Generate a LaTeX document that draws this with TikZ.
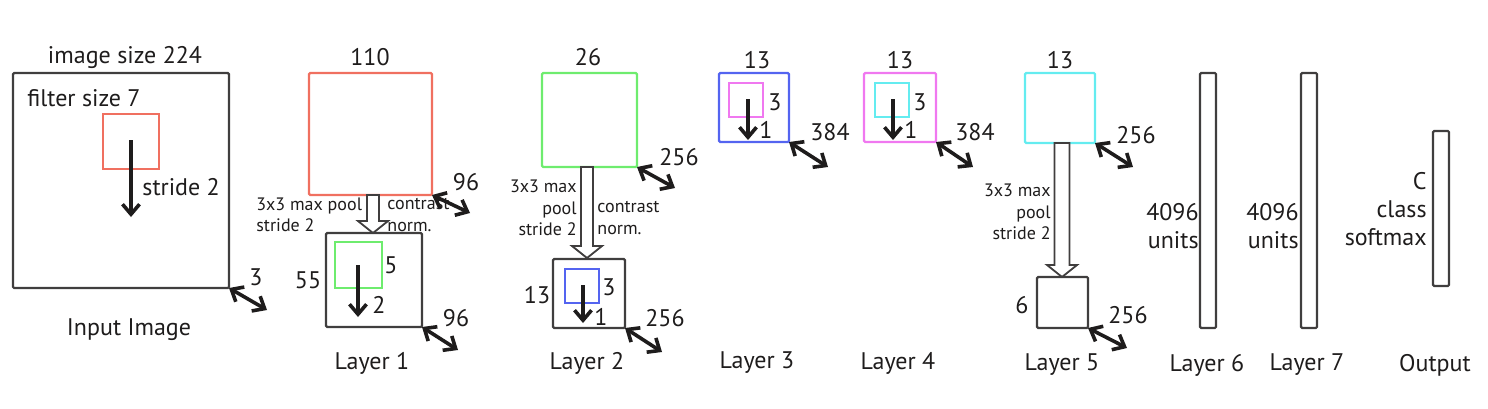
\documentclass[tikz,border=0pt]{standalone}
\usepackage{fontspec}
\setmainfont{PT Sans}
\usetikzlibrary{calc}
\usetikzlibrary{arrows.meta}

\definecolor{mapred}{RGB}{240,112,96}
\definecolor{mapgreen}{RGB}{110,236,110}
\definecolor{mapblue}{RGB}{84,100,240}
\definecolor{mapmagenta}{RGB}{240,120,240}
\definecolor{mapcyan}{RGB}{100,236,240}
\definecolor{ink}{RGB}{30,28,28}

\tikzset{
  fmap/.style={draw=ink!85, line width=1.1pt, rounded corners=0.6pt},
  filt/.style={line width=0.9pt},
  depth/.style={{Straight Barb[length=5pt,width=8.5pt]}-{Straight Barb[length=5pt,width=8.5pt]}, line width=1.8pt, ink},
  slide/.style={-{Straight Barb[length=5pt,width=8.5pt]}, line width=1.8pt, ink},
  pool/.style={draw=ink!85, line width=0.9pt, fill=white},
  big/.style={text=ink, font=\fontsize{12}{14}\selectfont, inner sep=0pt},
  small/.style={text=ink, font=\fontsize{9}{10.8}\selectfont, inner sep=0pt},
}

% hollow block arrow: top point, tip, half width of the shaft
\newcommand\poolarrow[3]{
  \draw[pool] ($(#1)+(-#3,0)$) -- ($(#2)+(-#3,-12)$) -- ($(#2)+(-15,-12)$)
    -- (#2) -- ($(#2)+(15,-12)$) -- ($(#2)+(#3,-12)$) -- ($(#1)+(#3,0)$) -- cycle;
}

\begin{document}
\begin{tikzpicture}[x=0.5pt,y=-0.5pt]
  \useasboundingbox (0,0) rectangle (1488,408);

  % input image
  \coordinate (in-nw) at (13,73);
  \coordinate (in-se) at (229,288);
  \draw[fmap] (in-nw) rectangle (in-se);
  \node[big] (in-size) at (125,57) {image size 224};
  \node[big, anchor=west] (in-filt) at (27,98) {filter size 7};
  \draw[filt, mapred] (103,114) rectangle (159,169);
  \coordinate (in-s0) at (131,140);
  \coordinate (in-s1) at (131,217);
  \draw[slide] (in-s0) -- (in-s1);
  \node[big, anchor=west] (in-stride) at (142,187) {stride 2};
  \coordinate (in-d) at (267,310);
  \draw[depth] (in-se) -- (in-d);
  \node[big] (in-ch) at (256,277) {3};
  \node[big] (in-name) at (129,330) {Input Image};

  % layer 1
  \coordinate (l1-nw) at (309,73);
  \coordinate (l1-se) at (432,195);
  \draw[fmap, draw=mapred] (l1-nw) rectangle (l1-se);
  \node[big] (l1-size) at (370,57) {110};
  \coordinate (l1-d) at (470,213);
  \draw[depth] (l1-se) -- (l1-d);
  \node[big] (l1-ch) at (466,182) {96};
  \coordinate (l1-p0) at (373,195);
  \coordinate (l1-p1) at (373,233);
  \poolarrow{l1-p0}{l1-p1}{6}
  \node[small, anchor=west, align=left] (l1-pool) at (256,215) {3x3 max pool\\stride 2};
  \node[small, anchor=west, align=left] (l1-norm) at (387,215) {contrast\\norm.};
  \coordinate (l1b-nw) at (326,233);
  \coordinate (l1b-se) at (422,327);
  \draw[fmap] (l1b-nw) rectangle (l1b-se);
  \node[big] (l1-out) at (308,280) {55};
  \draw[filt, mapgreen] (335,242) rectangle (382,288);
  \node[big] (l1-filt) at (391,265) {5};
  \coordinate (l1-s0) at (358,265);
  \coordinate (l1-s1) at (358,317);
  \draw[slide] (l1-s0) -- (l1-s1);
  \node[big] (l1-stride) at (379,305) {2};
  \coordinate (l1b-d) at (458,350);
  \draw[depth] (l1b-se) -- (l1b-d);
  \node[big] (l1b-ch) at (456,318) {96};
  \node[big] (l1-name) at (372,363) {Layer 1};

  % layer 2
  \coordinate (l2-nw) at (542,73);
  \coordinate (l2-se) at (637,167);
  \draw[fmap, draw=mapgreen] (l2-nw) rectangle (l2-se);
  \node[big] (l2-size) at (588,57) {26};
  \coordinate (l2-d) at (675,188);
  \draw[depth] (l2-se) -- (l2-d);
  \node[big] (l2-ch) at (679,157) {256};
  \coordinate (l2-p0) at (587,167);
  \coordinate (l2-p1) at (587,258);
  \poolarrow{l2-p0}{l2-p1}{6}
  \node[small, anchor=east, align=right] (l2-pool) at (577,208) {3x3 max\\pool\\stride 2};
  \node[small, anchor=west, align=left] (l2-norm) at (597,218) {contrast\\norm.};
  \coordinate (l2b-nw) at (553,259);
  \coordinate (l2b-se) at (625,328);
  \draw[fmap] (l2b-nw) rectangle (l2b-se);
  \node[big] (l2-out) at (537,295) {13};
  \draw[filt, mapblue] (565,269) rectangle (599,303);
  \node[big] (l2-filt) at (609,287) {3};
  \coordinate (l2-s0) at (583,285);
  \coordinate (l2-s1) at (583,323);
  \draw[slide] (l2-s0) -- (l2-s1);
  \node[big] (l2-stride) at (601,317) {1};
  \coordinate (l2b-d) at (662,352);
  \draw[depth] (l2b-se) -- (l2b-d);
  \node[big] (l2b-ch) at (665,318) {256};
  \node[big] (l2-name) at (587,363) {Layer 2};

  % layer 3
  \coordinate (l3-nw) at (719,73);
  \coordinate (l3-se) at (789,142);
  \draw[fmap, draw=mapblue] (l3-nw) rectangle (l3-se);
  \node[big] (l3-size) at (757,60) {13};
  \draw[filt, mapmagenta] (729,83) rectangle (763,117);
  \node[big] (l3-filt) at (775,102) {3};
  \coordinate (l3-s0) at (748,99);
  \coordinate (l3-s1) at (748,140);
  \draw[slide] (l3-s0) -- (l3-s1);
  \node[big] (l3-stride) at (766,130) {1};
  \coordinate (l3-d) at (828,167);
  \draw[depth] (l3-se) -- (l3-d);
  \node[big] (l3-ch) at (830,132) {384};
  \node[big] (l3-name) at (757,363) {Layer 3};

  % layer 4
  \coordinate (l4-nw) at (864,73);
  \coordinate (l4-se) at (936,142);
  \draw[fmap, draw=mapmagenta] (l4-nw) rectangle (l4-se);
  \node[big] (l4-size) at (900,60) {13};
  \draw[filt, mapcyan] (875,83) rectangle (909,117);
  \node[big] (l4-filt) at (920,102) {3};
  \coordinate (l4-s0) at (893,99);
  \coordinate (l4-s1) at (893,140);
  \draw[slide] (l4-s0) -- (l4-s1);
  \node[big] (l4-stride) at (911,130) {1};
  \coordinate (l4-d) at (973,167);
  \draw[depth] (l4-se) -- (l4-d);
  \node[big] (l4-ch) at (975,132) {384};
  \node[big] (l4-name) at (898,363) {Layer 4};

  % layer 5
  \coordinate (l5-nw) at (1025,73);
  \coordinate (l5-se) at (1095,143);
  \draw[fmap, draw=mapcyan] (l5-nw) rectangle (l5-se);
  \node[big] (l5-size) at (1060,60) {13};
  \coordinate (l5-d) at (1133,167);
  \draw[depth] (l5-se) -- (l5-d);
  \node[big] (l5-ch) at (1136,135) {256};
  \coordinate (l5-p0) at (1062,143);
  \coordinate (l5-p1) at (1062,277);
  \poolarrow{l5-p0}{l5-p1}{7.5}
  \node[small, anchor=east, align=right] (l5-pool) at (1051,212) {3x3 max\\pool\\stride 2};
  \coordinate (l5b-nw) at (1037,277);
  \coordinate (l5b-se) at (1088,328);
  \draw[fmap] (l5b-nw) rectangle (l5b-se);
  \node[big] (l5-out) at (1022,305) {6};
  \coordinate (l5b-d) at (1127,348);
  \draw[depth] (l5b-se) -- (l5b-d);
  \node[big] (l5b-ch) at (1128,315) {256};
  \node[big] (l5-name) at (1062,365) {Layer 5};

  % fully connected layers
  \draw[fmap] (1200,73) rectangle (1216,328);
  \node[big, anchor=east, align=right] (l6-units) at (1199,226) {4096\\units};
  \node[big] (l6-name) at (1207,365) {Layer 6};
  \draw[fmap] (1301,73) rectangle (1317,328);
  \node[big, anchor=east, align=right] (l7-units) at (1299,226) {4096\\units};
  \node[big] (l7-name) at (1307,365) {Layer 7};
  \draw[fmap] (1433,131) rectangle (1449,286);
  \node[big, anchor=east, align=right] (out-units) at (1427,209) {C\\class\\softmax};
  \node[big] (out-name) at (1435,365) {Output};
\end{tikzpicture}
\end{document}
